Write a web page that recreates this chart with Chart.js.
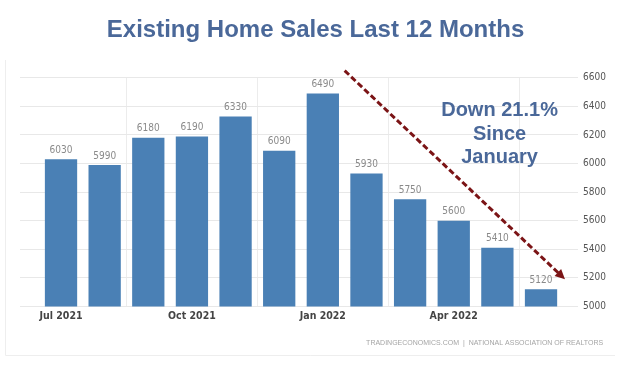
<!DOCTYPE html>
<html>
<head>
<meta charset="utf-8">
<title>Existing Home Sales Last 12 Months</title>
<script src="https://cdn.jsdelivr.net/npm/chart.js@4.4.0/dist/chart.umd.min.js"></script>
<style>
  html, body { margin: 0; padding: 0; background: #fff; }
  #wrap { width: 620px; height: 365px; position: relative; }
</style>
</head>
<body>
<div id="wrap"><canvas id="sales"></canvas></div>
<script>
// one bar per month
const months = ['Jul 2021', 'Aug 2021', 'Sep 2021', 'Oct 2021', 'Nov 2021', 'Dec 2021',
                'Jan 2022', 'Feb 2022', 'Mar 2022', 'Apr 2022', 'May 2022', 'Jun 2022'];
const sales = [6030, 5990, 6180, 6190, 6330, 6090, 6490, 5930, 5750, 5600, 5410, 5120];
const labelledMonths = [0, 3, 6, 9]; // only every 3rd month gets a label
const yTicks = [5000, 5200, 5400, 5600, 5800, 6000, 6200, 6400, 6600];

// callout text + arrow, positioned in data units (month index, sales)
const noteLines = ['Down 21.1%', 'Since', 'January'];
const noteAt = [10.05, 6370];
const arrowFrom = [6.5, 6650];
const arrowTo = [11.55, 5190];
const sourceText = 'TRADINGECONOMICS.COM  |  NATIONAL ASSOCIATION OF REALTORS';

const narrow = '"DejaVu Sans Condensed", "Liberation Sans", sans-serif';
const blueText = '#4a6899';

// numbers above the bars
const valueLabels = {
  id: 'valueLabels',
  afterDatasetsDraw(chart) {
    const ctx = chart.ctx;
    const meta = chart.getDatasetMeta(0);
    ctx.save();
    ctx.font = '10px ' + narrow;
    ctx.fillStyle = '#8a8a8a';
    ctx.textAlign = 'center';
    ctx.textBaseline = 'bottom';
    meta.data.forEach((bar, i) => {
      ctx.fillText(String(sales[i]), bar.x, bar.y - 4);
    });
    ctx.restore();
  }
};

const callout = {
  id: 'callout',
  afterDraw(chart) {
    const ctx = chart.ctx;
    const xs = chart.scales.x, ys = chart.scales.y;

    // text
    ctx.save();
    ctx.font = 'bold 20px "Liberation Sans", Arial, sans-serif';
    ctx.fillStyle = blueText;
    ctx.textAlign = 'center';
    ctx.textBaseline = 'middle';
    const tx = xs.getPixelForValue(noteAt[0]);
    const ty = ys.getPixelForValue(noteAt[1]);
    noteLines.forEach((line, i) => ctx.fillText(line, tx, ty + i * 23.5));
    ctx.restore();

    // dashed arrow
    const x1 = xs.getPixelForValue(arrowFrom[0]), y1 = ys.getPixelForValue(arrowFrom[1]);
    const x2 = xs.getPixelForValue(arrowTo[0]), y2 = ys.getPixelForValue(arrowTo[1]);
    const ang = Math.atan2(y2 - y1, x2 - x1);
    const head = 11;
    ctx.save();
    ctx.strokeStyle = '#7b1416';
    ctx.fillStyle = '#7b1416';
    ctx.lineWidth = 3;
    ctx.setLineDash([6, 3]);
    ctx.beginPath();
    ctx.moveTo(x1, y1);
    ctx.lineTo(x2 - Math.cos(ang) * head * 0.8, y2 - Math.sin(ang) * head * 0.8);
    ctx.stroke();
    ctx.setLineDash([]);
    ctx.beginPath();
    ctx.moveTo(x2, y2);
    ctx.lineTo(x2 - head * Math.cos(ang - 0.45), y2 - head * Math.sin(ang - 0.45));
    ctx.lineTo(x2 - head * Math.cos(ang + 0.45), y2 - head * Math.sin(ang + 0.45));
    ctx.closePath();
    ctx.fill();
    ctx.restore();

    // source line
    const area = chart.chartArea;
    ctx.save();
    ctx.font = '7px "Liberation Sans", Arial, sans-serif';
    ctx.fillStyle = '#a5a5a5';
    ctx.textAlign = 'right';
    ctx.textBaseline = 'middle';
    ctx.fillText(sourceText, area.right + 25, area.bottom + 37);
    ctx.restore();
  }
};

// faint panel edge like the screenshot
const panel = {
  id: 'panel',
  beforeDraw(chart) {
    const ctx = chart.ctx;
    ctx.save();
    ctx.strokeStyle = '#eeeeee';
    ctx.lineWidth = 1;
    ctx.beginPath();
    ctx.moveTo(5.5, 60);
    ctx.lineTo(5.5, 355.5);
    ctx.lineTo(615, 355.5);
    ctx.stroke();
    ctx.restore();
  }
};

new Chart(document.getElementById('sales'), {
  type: 'bar',
  data: {
    datasets: [{
      data: sales.map((v, i) => ({ x: i, y: v })),
      backgroundColor: '#4a80b5',
      borderWidth: 0,
      barPercentage: 0.74,
      categoryPercentage: 1
    }]
  },
  options: {
    responsive: true,
    maintainAspectRatio: false,
    animation: false,
    layout: { padding: { left: 20, right: 9, top: 0, bottom: 38 } },
    plugins: {
      legend: { display: false },
      tooltip: { enabled: false },
      title: {
        display: true,
        text: 'Existing Home Sales Last 12 Months',
        color: blueText,
        font: { family: '"Liberation Sans", Arial, sans-serif', size: 24, weight: 'bold' },
        padding: { top: 16, bottom: 33 }
      }
    },
    scales: {
      x: {
        type: 'linear',
        min: -0.94,
        max: 11.85,
        offset: false,
        afterBuildTicks: axis => { axis.ticks = labelledMonths.map(v => ({ value: v })); },
        ticks: {
          autoSkip: false,
          maxRotation: 0,
          padding: 4,
          color: '#444',
          font: { family: narrow, size: 10.5, weight: '600' },
          callback: v => months[v]
        },
        grid: { color: '#ececec', drawTicks: false },
        border: { display: false }
      },
      y: {
        position: 'right',
        min: 5000,
        max: 6600,
        afterBuildTicks: axis => { axis.ticks = yTicks.map(v => ({ value: v })); },
        ticks: {
          padding: 5,
          color: '#555',
          font: { family: narrow, size: 10 },
          callback: v => String(v)
        },
        grid: { color: '#e8e8e8', drawTicks: false },
        border: { display: false }
      }
    }
  },
  plugins: [panel, valueLabels, callout]
});
</script>
</body>
</html>
